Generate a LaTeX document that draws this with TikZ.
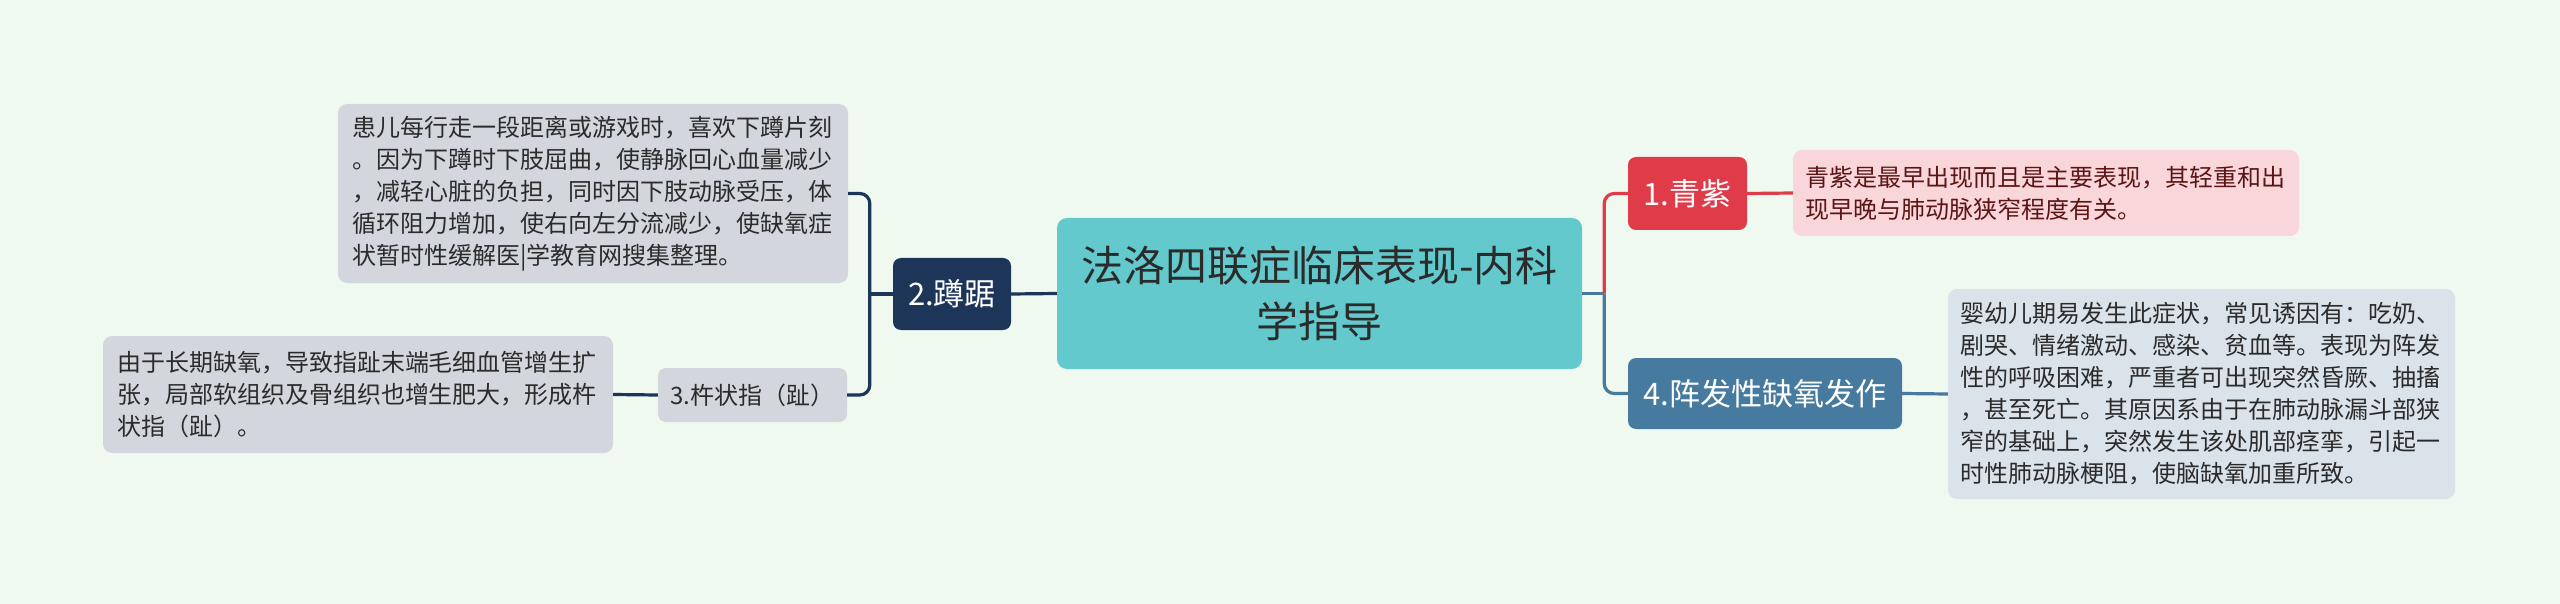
\documentclass[tikz,border=0pt]{standalone}
\usepackage{fontspec}
\setmainfont{Noto Sans CJK SC}
\definecolor{bg}{HTML}{F0F9EF}
\definecolor{cenfill}{HTML}{63C9CC}
\definecolor{navy}{HTML}{1D3558}
\definecolor{redc}{HTML}{E03B48}
\definecolor{steel}{HTML}{467B9F}
\definecolor{greyb}{HTML}{D3D7DD}
\definecolor{pinkb}{HTML}{F9D6DA}
\definecolor{pinkt}{HTML}{5B1515}
\definecolor{blueb}{HTML}{DBE3EA}
\definecolor{tdark}{HTML}{2B2B2B}
\begin{document}
\begin{tikzpicture}[x=1pt,y=-1pt,
  body/.style={rounded corners=9pt, inner xsep=14pt, inner ysep=0pt, text width=482pt, align=left,
    font=\fontsize{24}{32}\selectfont, text=tdark},
  lab/.style={rounded corners=8pt, inner sep=0pt, text=white, font=\fontsize{31}{36}\selectfont, align=center},
  conn/.style={line width=3.2pt},
  rc/.style={rounded corners=10pt}]
\fill[bg] (0,0) rectangle (2560,604);
\useasboundingbox (0,0) rectangle (2560,604);

% central
\node[fill=cenfill, rounded corners=10pt, inner sep=0pt, minimum width=525pt, minimum height=151pt,
  text width=500pt, align=center, font=\fontsize{42}{56}\selectfont, text=tdark] (cen) at (1319.5,293.5)
  {法洛四联症临床表现-内科\\学指导};

% left branch
\node[lab, fill=navy, minimum width=118pt, minimum height=72pt] (dun) at (952,294) {2.蹲踞};
\node[body, fill=greyb, minimum height=179pt] (b1) at (593,193.5)
  {患儿每行走一段距离或游戏时，喜欢下蹲片刻\\。因为下蹲时下肢屈曲，使静脉回心血量减少\\，减轻心脏的负担，同时因下肢动脉受压，体\\循环阻力增加，使右向左分流减少，使缺氧症\\状暂时性缓解医|学教育网搜集整理。};
\node[rounded corners=8pt, fill=greyb, inner sep=0pt, minimum width=189pt, minimum height=54pt,
  font=\fontsize{24}{28}\selectfont, text=tdark] (zz) at (752.5,395) {3.杵状指（趾）};
\node[body, fill=greyb, minimum height=117pt] (b3) at (358,394.5)
  {由于长期缺氧，导致指趾末端毛细血管增生扩\\张，局部软组织及骨组织也增生肥大，形成杵\\状指（趾）。};

% right branch
\node[lab, fill=redc, minimum width=119pt, minimum height=73pt] (qz) at (1687.5,193.5) {1.青紫};
\node[body, fill=pinkb, text=pinkt, minimum height=86pt, inner xsep=12pt] (pk) at (2046,193)
  {青紫是最早出现而且是主要表现，其轻重和出\\现早晚与肺动脉狭窄程度有关。};
\node[lab, fill=steel, minimum width=274pt, minimum height=71pt] (zf) at (1765,393.5) {4.阵发性缺氧发作};
\node[body, fill=blueb, minimum height=210pt, inner xsep=12.5pt] (bl) at (2201.5,394)
  {婴幼儿期易发生此症状，常见诱因有：吃奶、\\剧哭、情绪激动、感染、贫血等。表现为阵发\\性的呼吸困难，严重者可出现突然昏厥、抽搐\\，甚至死亡。其原因系由于在肺动脉漏斗部狭\\窄的基础上，突然发生该处肌部痉挛，引起一\\时性肺动脉梗阻，使脑缺氧加重所致。};

% connectors left
\coordinate (lj) at ([xshift=-23pt]dun.west);
\draw[conn, navy] (cen.west) -- (dun.east);
\draw[conn, navy] (dun.west) -- (lj);
\draw[conn, navy, rc] (lj) |- (b1.east);
\draw[conn, navy, rc] (lj) |- (zz.east);
\draw[conn, navy] (zz.west) -- (b3.east);

% connectors right
\coordinate (rj) at ([xshift=22pt]cen.east);
\draw[conn, steel] (cen.east) -- (rj);
\draw[conn, redc, rc] (rj) |- (qz.west);
\draw[conn, steel, rc] (rj) |- (zf.west);
\draw[conn, redc] (qz.east) -- (pk.west);
\draw[conn, steel] (zf.east) -- (bl.west);
\end{tikzpicture}
\end{document}
